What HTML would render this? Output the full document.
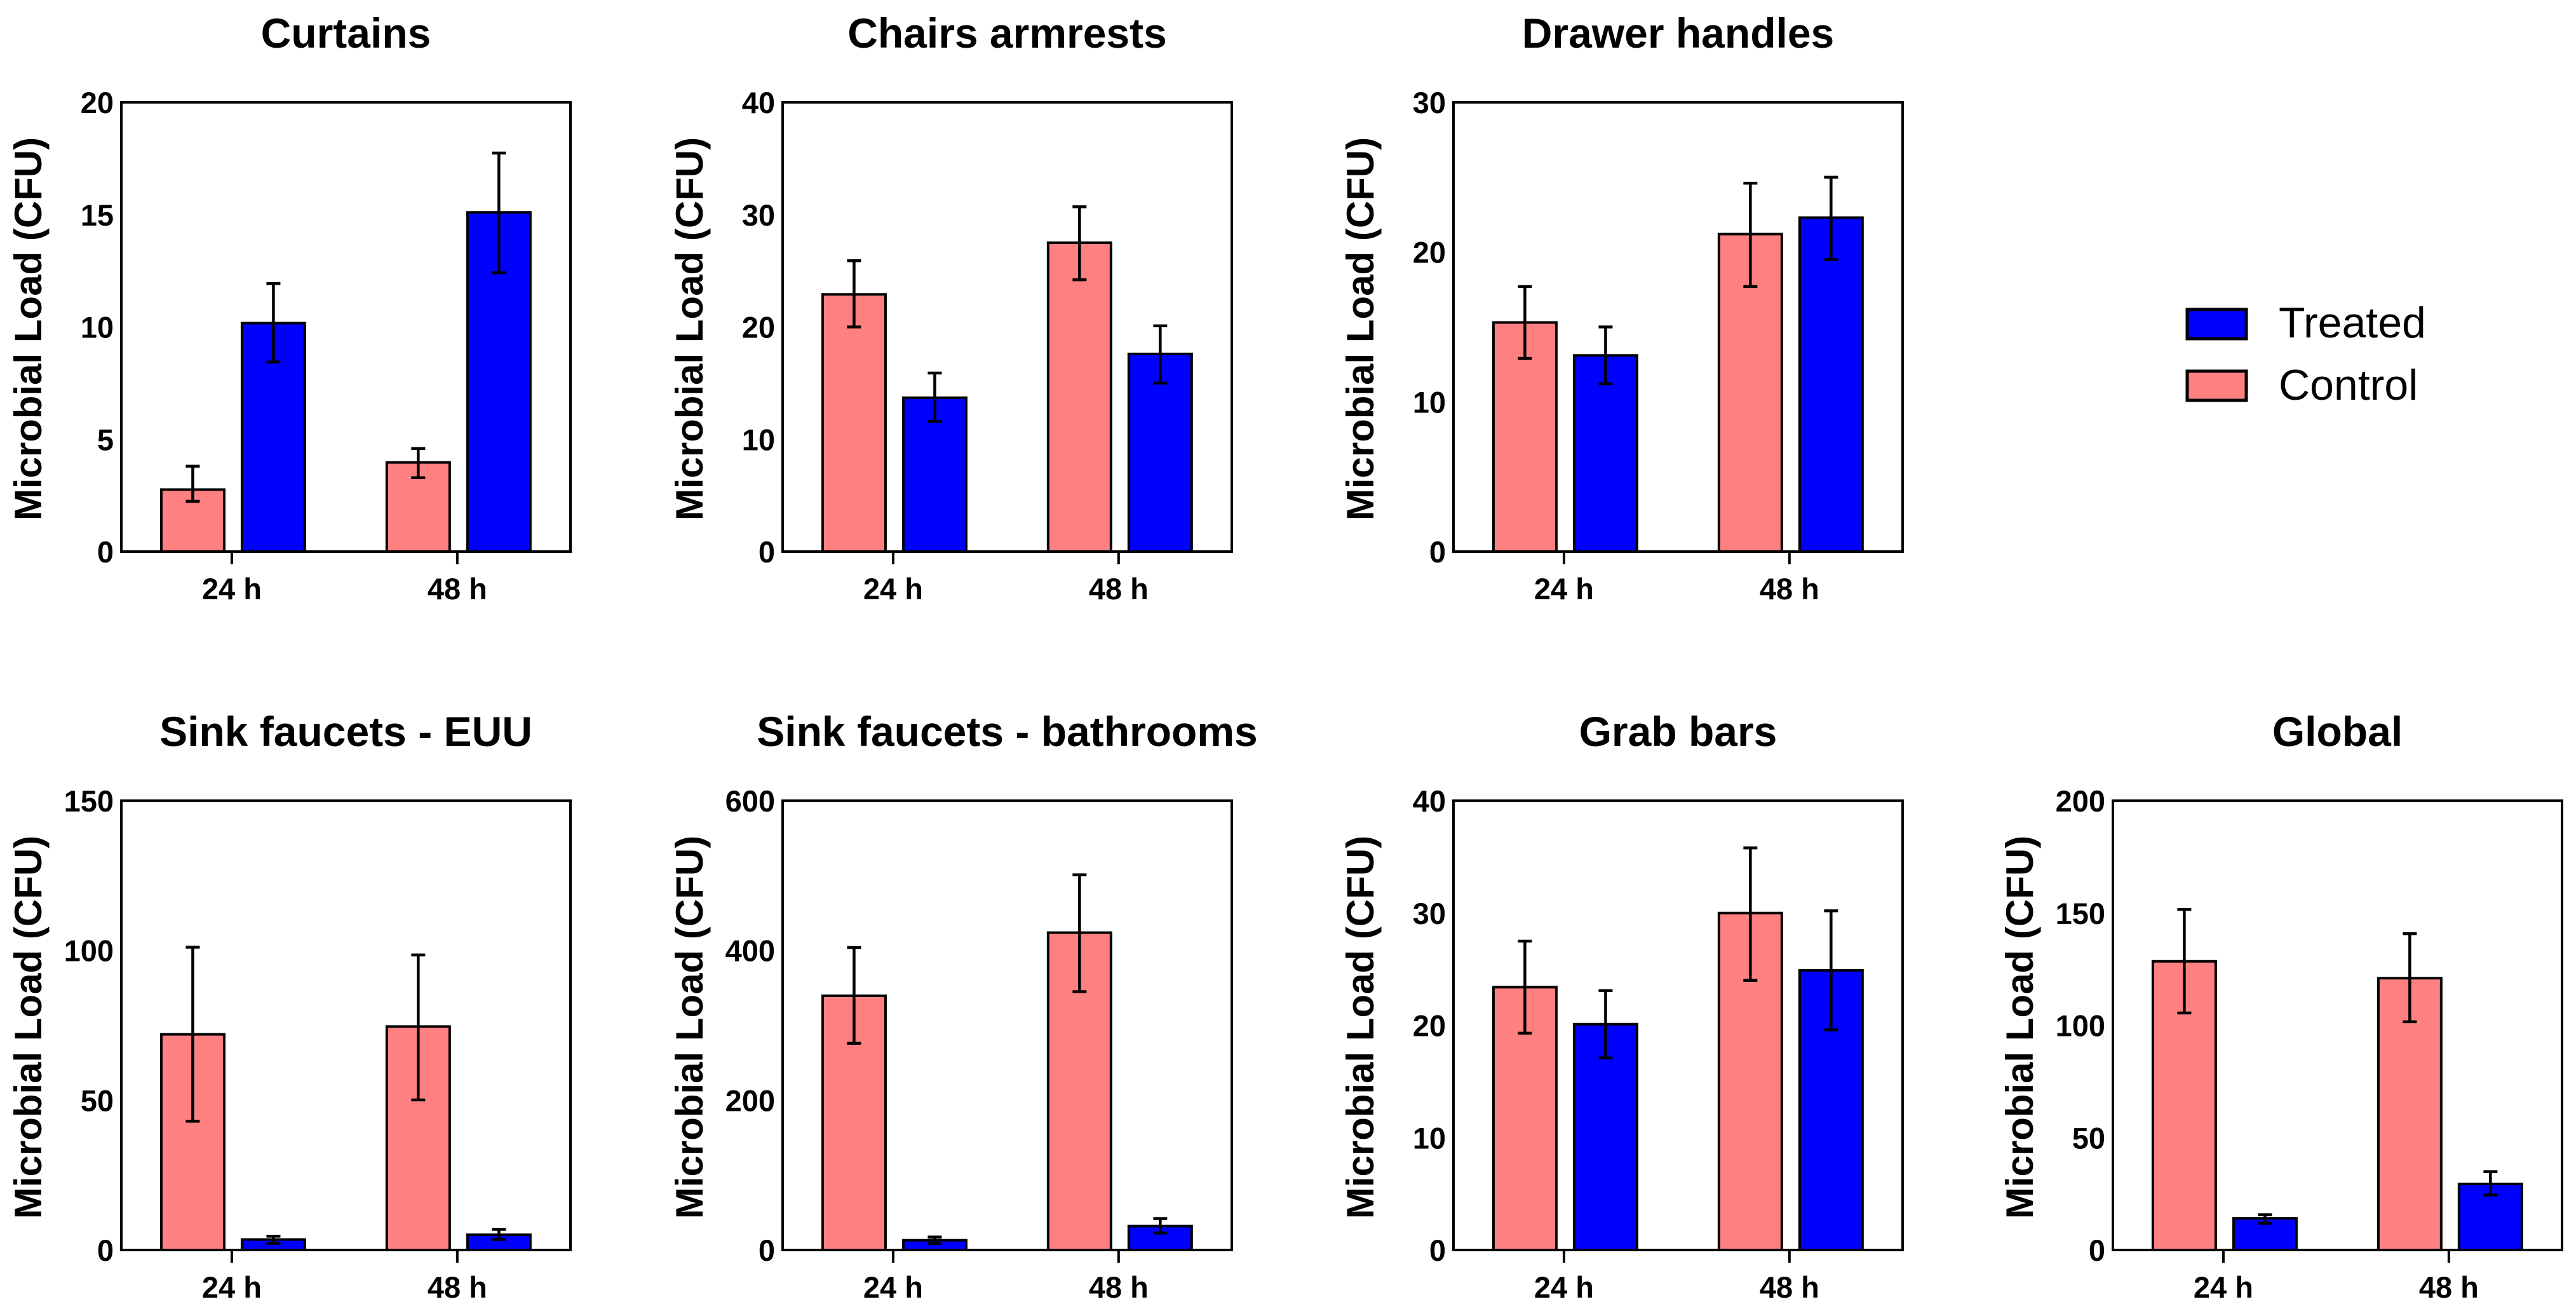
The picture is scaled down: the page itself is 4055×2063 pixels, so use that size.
<!DOCTYPE html>
<html><head><meta charset="utf-8"><style>
html,body{margin:0;padding:0;background:#fff;}
svg{display:block;font-family:"Liberation Sans",Arial,sans-serif;}
</style></head>
<body>
<svg id="chart" width="4055" height="2063" viewBox="0 0 4055 2063" xmlns="http://www.w3.org/2000/svg">
<rect width="4055" height="2063" fill="#fff"/>
<g id="legend">
  <g>
    <rect x="3443" y="487" width="93" height="46" fill="#0000ff" stroke="#000" stroke-width="5"/>
    <text x="3587" y="531" font-size="68">Treated</text>
  </g>
  <g>
    <rect x="3443" y="584" width="93" height="46" fill="#ff8080" stroke="#000" stroke-width="5"/>
    <text x="3587" y="629" font-size="68">Control</text>
  </g>
</g>
</svg>
<script>
// ---- data ----
const categories = ["24 h", "48 h"];
const panelTitles = ["Curtains", "Chairs armrests", "Drawer handles", "Sink faucets - EUU", "Sink faucets - bathrooms", "Grab bars", "Global"];
const yMaxValues = [20, 40, 30, 150, 600, 40, 200];
const yTickLabels = [
  [0, 5, 10, 15, 20],
  [0, 10, 20, 30, 40],
  [0, 10, 20, 30],
  [0, 50, 100, 150],
  [0, 200, 400, 600],
  [0, 10, 20, 30, 40],
  [0, 50, 100, 150, 200]
];
const controlMeans = [[2.76, 3.97], [22.9, 27.5], [15.3, 21.2], [72.0, 74.6], [339.5, 423.8], [23.4, 30.0], [128.5, 121.0]];
const controlUpper = [[3.8, 4.59], [25.9, 30.7], [17.7, 24.6], [101.1, 98.5], [404, 501], [27.5, 35.8], [151.6, 140.8]];
const controlLower = [[2.24, 3.29], [20.0, 24.2], [12.9, 17.7], [43.0, 50.1], [276, 345], [19.3, 24.0], [105.5, 101.6]];
const treatedMeans = [[10.17, 15.1], [13.7, 17.6], [13.1, 22.3], [3.5, 5.1], [13, 31.9], [20.1, 24.9], [14.1, 29.4]];
const treatedUpper = [[11.93, 17.74], [15.9, 20.1], [15.0, 25.0], [4.6, 6.9], [17.3, 42], [23.1, 30.2], [15.7, 34.9]];
const treatedLower = [[8.44, 12.41], [11.6, 15.0], [11.2, 19.5], [2.2, 3.5], [8.6, 22.7], [17.1, 19.6], [11.9, 24.5]];

// ---- layout ----
const plotLefts = [191, 1232, 2288, 191, 1232, 2288, 3326];
const plotTops = [161, 161, 161, 1260, 1260, 1260, 1260];
const PW = 707, PH = 707;
const NS = "http://www.w3.org/2000/svg";
const svg = document.getElementById("chart");

function mk(tag, attrs, parent) {
  const e = document.createElementNS(NS, tag);
  for (const k in attrs) e.setAttribute(k, attrs[k]);
  parent.appendChild(e);
  return e;
}

panelTitles.forEach((title, p) => {
  const L = plotLefts[p], T = plotTops[p], B = T + PH;
  const yMax = yMaxValues[p];
  const yScale = v => B - v / yMax * PH;
  const xScale = i => L + PW * (0.246 + i * 0.502);

  const g = mk("g", {}, svg);
  
  

  const t = mk("text", {x: L + PW / 2, y: T - 86, "font-size": 66, "font-weight": "bold", "text-anchor": "middle"}, g);
  t.textContent = title;
  
  

  const yt = mk("text", {x: 0, y: 0, "font-size": 60, "font-weight": "bold", "text-anchor": "middle",
    transform: `translate(${L - 126},${T + PH / 2 + 3}) rotate(-90)`}, g);
  yt.textContent = "Microbial Load (CFU)";
  
  

  yTickLabels[p].forEach(v => {
    const tl = mk("text", {x: L - 12, y: yScale(v) + 17, "font-size": 47, "font-weight": "bold", "text-anchor": "end"}, g);
    tl.textContent = v;
    
    
  });

  categories.forEach((c, i) => {
    const cx = xScale(i);
    const cb = mk("rect", {x: cx - 111, y: yScale(controlMeans[p][i]), width: 99, height: B - yScale(controlMeans[p][i]), fill: "#ff8080", stroke: "#000", "stroke-width": 4}, g);
    
    
    const tb = mk("rect", {x: cx + 16, y: yScale(treatedMeans[p][i]), width: 99, height: B - yScale(treatedMeans[p][i]), fill: "#0000ff", stroke: "#000", "stroke-width": 4}, g);
    
    

    [[cx - 61.5, controlUpper[p][i], controlLower[p][i], 'control'], [cx + 65.5, treatedUpper[p][i], treatedLower[p][i], 'treated']].forEach(([ex, up, lo, s]) => {
      const eg = mk("g", {stroke: "#000", "stroke-width": 4.5}, g);
      
      
      mk("line", {x1: ex, x2: ex, y1: yScale(up), y2: yScale(lo)}, eg);
      mk("line", {x1: ex - 11, x2: ex + 11, y1: yScale(up), y2: yScale(up)}, eg);
      mk("line", {x1: ex - 11, x2: ex + 11, y1: yScale(lo), y2: yScale(lo)}, eg);
    });

    const tk = mk("line", {x1: cx, x2: cx, y1: B, y2: B + 20, stroke: "#000", "stroke-width": 4}, g);
    
    
    const xl = mk("text", {x: cx, y: B + 75, "font-size": 47, "font-weight": "bold", "text-anchor": "middle"}, g);
    xl.textContent = c;
    
    
  });

  const fr = mk("rect", {x: L, y: T, width: PW, height: PH, fill: "none", stroke: "#000", "stroke-width": 4}, g);
  
  
});
</script>
</body></html>
